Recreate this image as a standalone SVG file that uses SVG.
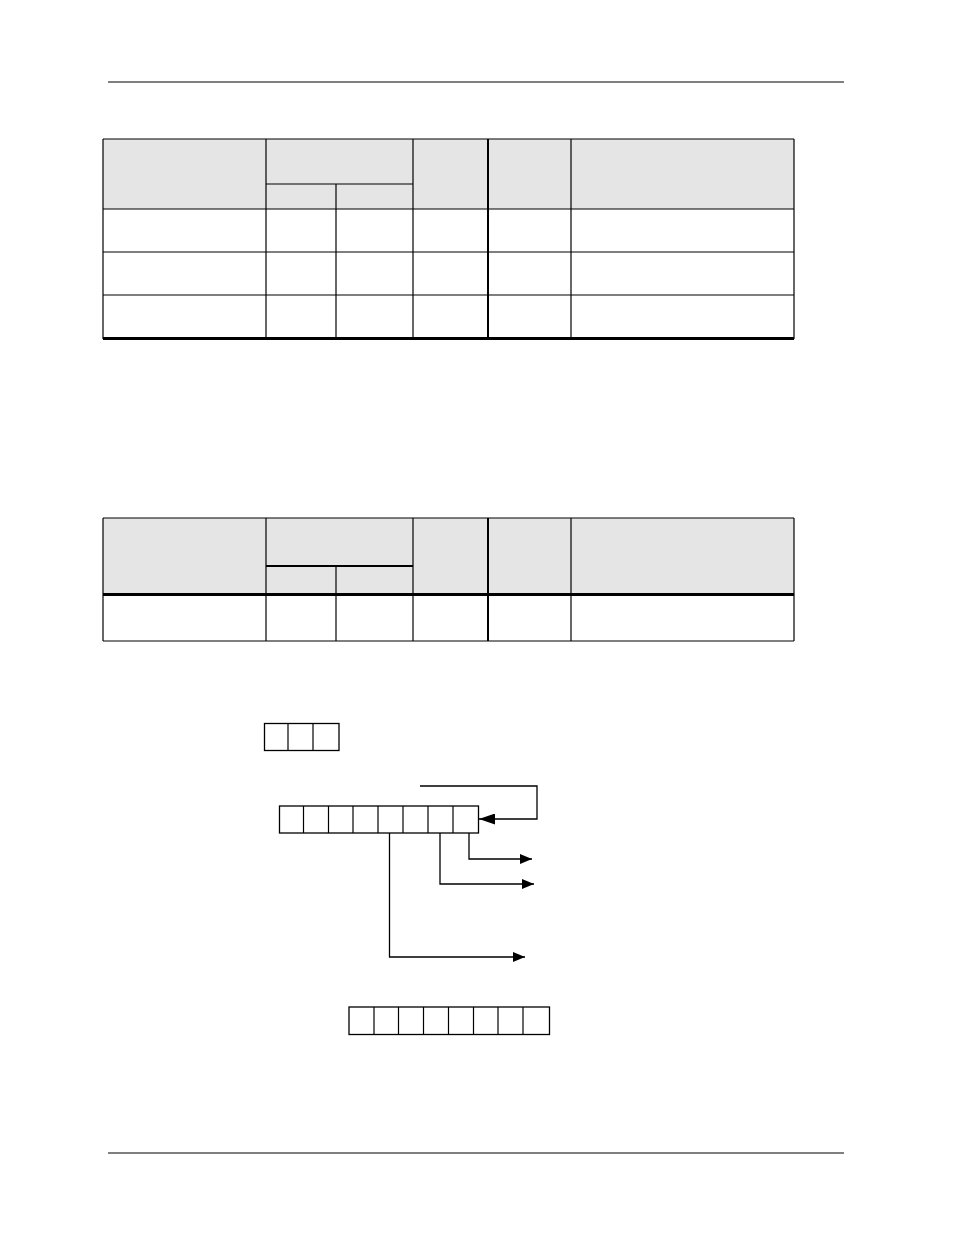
<svg xmlns="http://www.w3.org/2000/svg" width="954" height="1235" viewBox="0 0 954 1235">
<style>
.ln{stroke:#000;stroke-width:1.2;fill:none}
.thk{stroke:#000;stroke-width:2;fill:none}
.bth{stroke:#000;stroke-width:3;fill:none}
.hdr{fill:#e5e5e5;stroke:none}
.cell{fill:#fff;stroke:#000;stroke-width:1.3}
.wire{stroke:#000;stroke-width:1.3;fill:none}
</style>
<defs>
<marker id="ah" markerWidth="12" markerHeight="10" refX="12" refY="5" orient="auto" markerUnits="userSpaceOnUse">
<path d="M0,0 L12,5 L0,10 Z" fill="#000"/>
</marker>
<marker id="ahb" markerWidth="16" markerHeight="11" refX="16" refY="5.5" orient="auto" markerUnits="userSpaceOnUse">
<path d="M0,0 L16,5.5 L0,11 Z" fill="#000"/>
</marker>
</defs>
<rect width="954" height="1235" fill="#fff"/>
<g id="header-rule"><line class="ln" x1="108" y1="82" x2="844" y2="82"/></g>
<g id="footer-rule"><line class="ln" x1="108" y1="1153" x2="844" y2="1153"/></g>

<g id="table1">
<rect class="hdr" x="103" y="139" width="691" height="70"/>
<line class="ln" x1="103" y1="139" x2="794" y2="139"/>
<line class="ln" x1="266" y1="184" x2="413" y2="184"/>
<line class="ln" x1="103" y1="209" x2="794" y2="209"/>
<line class="ln" x1="103" y1="252" x2="794" y2="252"/>
<line class="ln" x1="103" y1="295" x2="794" y2="295"/>
<line class="bth" x1="103" y1="338.5" x2="794" y2="338.5"/>
<line class="ln" x1="103" y1="139" x2="103" y2="339"/>
<line class="ln" x1="266" y1="139" x2="266" y2="339"/>
<line class="ln" x1="336" y1="184" x2="336" y2="339"/>
<line class="ln" x1="413" y1="139" x2="413" y2="339"/>
<line class="thk" x1="488" y1="139" x2="488" y2="339"/>
<line class="ln" x1="571" y1="139" x2="571" y2="339"/>
<line class="ln" x1="794" y1="139" x2="794" y2="339"/>
</g>

<g id="table2">
<rect class="hdr" x="103" y="518" width="691" height="77"/>
<line class="ln" x1="103" y1="518" x2="794" y2="518"/>
<line class="thk" x1="266" y1="566" x2="413" y2="566"/>
<line class="bth" x1="103" y1="594.5" x2="794" y2="594.5"/>
<line class="ln" x1="103" y1="641" x2="794" y2="641"/>
<line class="ln" x1="103" y1="518" x2="103" y2="641"/>
<line class="ln" x1="266" y1="518" x2="266" y2="641"/>
<line class="ln" x1="336" y1="566" x2="336" y2="641"/>
<line class="ln" x1="413" y1="518" x2="413" y2="641"/>
<line class="thk" x1="488" y1="518" x2="488" y2="641"/>
<line class="ln" x1="571" y1="518" x2="571" y2="641"/>
<line class="ln" x1="794" y1="518" x2="794" y2="641"/>
</g>

<g id="reg3">
<rect class="cell" x="264.5" y="723.5" width="74.5" height="27"/>
<line class="ln" x1="288" y1="723.5" x2="288" y2="750.5"/>
<line class="ln" x1="313" y1="723.5" x2="313" y2="750.5"/>
</g>

<g id="reg8">
<rect class="cell" x="279.5" y="806" width="199" height="27"/>
<line class="ln" x1="303.5" y1="806" x2="303.5" y2="833"/>
<line class="ln" x1="328.5" y1="806" x2="328.5" y2="833"/>
<line class="ln" x1="353" y1="806" x2="353" y2="833"/>
<line class="ln" x1="378" y1="806" x2="378" y2="833"/>
<line class="ln" x1="403" y1="806" x2="403" y2="833"/>
<line class="ln" x1="428" y1="806" x2="428" y2="833"/>
<line class="ln" x1="453" y1="806" x2="453" y2="833"/>
</g>

<g id="reg8b">
<rect class="cell" x="349" y="1007" width="200.5" height="27.5"/>
<line class="ln" x1="374" y1="1007" x2="374" y2="1034.5"/>
<line class="ln" x1="398.5" y1="1007" x2="398.5" y2="1034.5"/>
<line class="ln" x1="423.5" y1="1007" x2="423.5" y2="1034.5"/>
<line class="ln" x1="448.5" y1="1007" x2="448.5" y2="1034.5"/>
<line class="ln" x1="473.5" y1="1007" x2="473.5" y2="1034.5"/>
<line class="ln" x1="498" y1="1007" x2="498" y2="1034.5"/>
<line class="ln" x1="523" y1="1007" x2="523" y2="1034.5"/>
</g>

<g id="connectors">
<polyline class="wire" points="420,786 537,786 537,819 479,819" marker-end="url(#ahb)"/>
<polyline class="wire" points="469,833 469,859 532,859" marker-end="url(#ah)"/>
<polyline class="wire" points="440,833 440,884 534,884" marker-end="url(#ah)"/>
<polyline class="wire" points="389.5,833 389.5,957 525,957" marker-end="url(#ah)"/>
</g>
</svg>
